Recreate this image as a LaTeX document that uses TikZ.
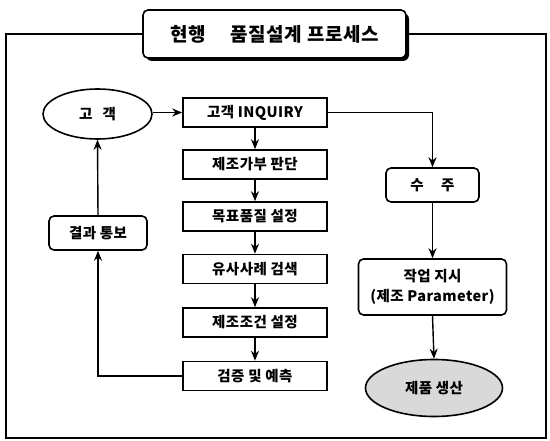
\documentclass[tikz,border=0pt]{standalone}
\usepackage{fontspec}
\setmainfont{Noto Sans CJK KR}[LetterSpace=3]
\usetikzlibrary{shapes.geometric,arrows.meta}
\begin{document}
\begin{tikzpicture}[x=1pt,y=-1pt,
  every node/.style={font=\bfseries\fontsize{14.5}{16}\selectfont, inner sep=0pt},
  stepbox/.style={draw, line width=1.6pt, minimum width=144pt, minimum height=29pt},
  rbox/.style={draw, line width=1.6pt, rounded corners=5pt},
  oval/.style={draw, ellipse, line width=1.6pt},
  conn/.style={line width=1.4pt},
  arr/.style={conn, -{Stealth[length=10pt,width=8pt]}}]
\useasboundingbox (0,0) rectangle (550,441);
% title
\fill[rounded corners=6pt] (146,13) rectangle (409,61);
\node[rbox, fill=white, minimum width=263pt, minimum height=48pt,
  font=\bfseries\fontsize{19}{21}\selectfont] (title) at (274.5,34) {현행\hspace{1.3em}품질설계 프로세스};
\draw[line width=1.6pt] (title.west) -- (6,34) -- (6,438) -- (546,438) -- (546,34) -- (title.east);
% left column
\node[oval, minimum width=109pt, minimum height=50pt] (cust) at (97.5,114) {고\hspace{0.7em}객};
\node[stepbox] (inq) at (255,112.5) {고객 INQUIRY};
\node[stepbox] (b2) at (255,164.5) {제조가부 판단};
\node[stepbox] (b3) at (255,216.5) {목표품질 설정};
\node[stepbox] (b4) at (255,269) {유사사례 검색};
\node[stepbox] (b5) at (255,322.5) {제조조건 설정};
\node[stepbox] (b6) at (255,376) {검증 및 예측};
\node[rbox, minimum width=98pt, minimum height=34pt] (res) at (98,233) {결과 통보};
% right column
\node[rbox, minimum width=93pt, minimum height=34pt] (suju) at (432.5,185) {수\hspace{1.2em}주};
\node[rbox, minimum width=148pt, minimum height=56pt, align=center,
  font=\bfseries\fontsize{14.5}{20}\selectfont] (work) at (432.5,287) {작업 지시\\(제조 Parameter)};
\node[oval, fill=gray!30, minimum width=137pt, minimum height=57pt] (prod) at (434,388) {제품 생산};
% connectors
\draw[arr] (cust.east |- inq.west) -- (inq.west);
\draw[arr] (inq) -- (b2);
\draw[arr] (b2) -- (b3);
\draw[arr] (b3) -- (b4);
\draw[arr] (b4) -- (b5);
\draw[arr] (b5) -- (b6);
\draw[arr] (b6.west) -| (res.south);
\draw[arr] (res.north) -- (cust.south);
\draw[arr] (inq.east) -| (suju.north);
\draw[arr] (suju) -- (work);
\draw[arr] (work.south) -- (prod.north);
\end{tikzpicture}
\end{document}
